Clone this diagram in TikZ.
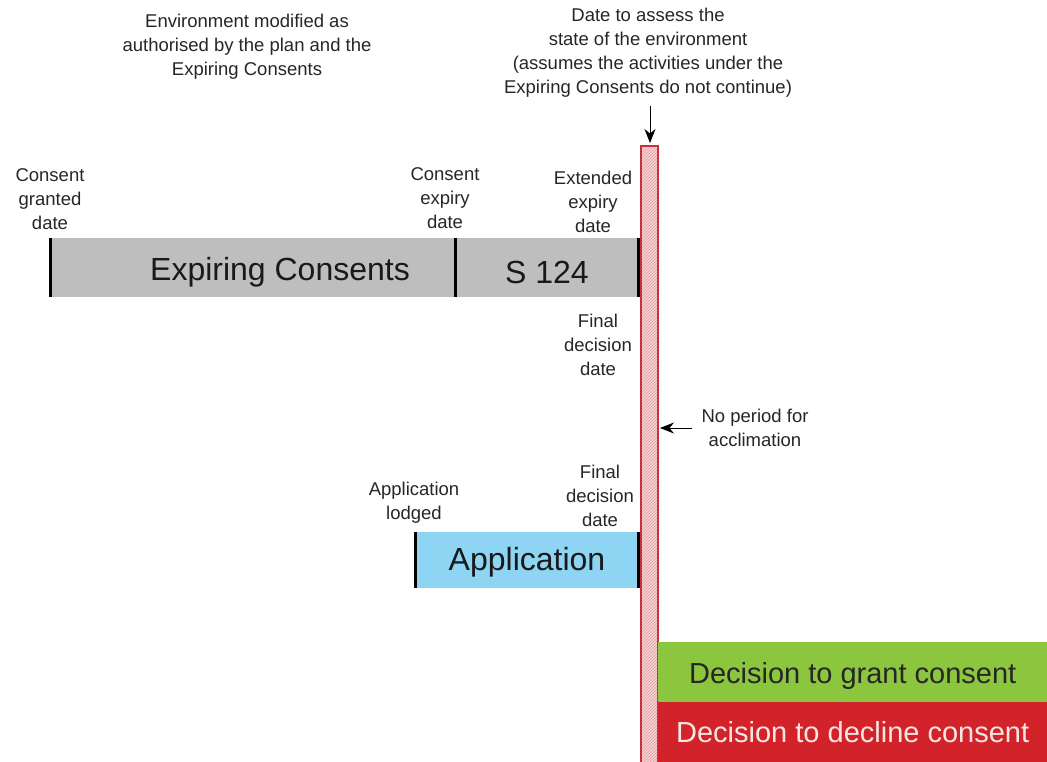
\documentclass[tikz,border=0pt]{standalone}
\usepackage{fontspec}
\setmainfont{Liberation Sans}
\usetikzlibrary{patterns,arrows.meta}
\definecolor{bargray}{HTML}{BEBEBE}
\definecolor{appblue}{HTML}{8DD5F2}
\definecolor{grantgreen}{HTML}{8CC63F}
\definecolor{declinered}{HTML}{D2232A}
\definecolor{hatchred}{HTML}{C8323E}
\definecolor{hatchpink}{HTML}{F7D3D6}
\definecolor{lighttext}{HTML}{F6E6E2}
\begin{document}
\begin{tikzpicture}[x=1pt,y=-1pt,
  small/.style={font=\fontsize{18.5}{24}\selectfont, align=center, text=black!85, inner sep=0pt},
  big/.style={font=\fontsize{32}{36}\selectfont, inner sep=0pt, text=black!90},
  edge/.style={line width=3pt, black},
  ptr/.style={-{Stealth[length=14pt,width=11pt]}, line width=0.9pt, black}]
\useasboundingbox (0,0) rectangle (1047,761);
% bars
\path[fill=bargray] (50,238) rectangle (640,297);
\node[big] (ec) at (280,272) {Expiring Consents};
\node[big] (s124) at (547,272) {S 124};
\draw[edge] (50,238) -- (50,297);
\draw[edge] (455,238) -- (455,297);
\draw[edge] (638,238) -- (638,297);
\path[fill=appblue] (415,532) rectangle (640,588);
\node[big] (app) at (527,562) {Application};
\draw[edge] (415,532) -- (415,588);
\draw[edge] (638,532) -- (638,588);
% hatched date bar
\path[fill=hatchpink] (641,146) rectangle (658,762);
\path[pattern=north east lines, pattern color=hatchred!50] (641,146) rectangle (658,762);
\draw[hatchred, line width=1.2pt] (641,762) -- (641,146) -- (658,146) -- (658,762);
\coordinate (datetop) at (650,143);
\coordinate (dateside) at (660,428);
% decision boxes
\node[fill=grantgreen, minimum width=389pt, minimum height=62pt, inner sep=0pt, anchor=north west,
  font=\fontsize{29}{32}\selectfont, text=black!85, text depth=0pt, yshift=-1pt] (grant) at (658,641) {Decision to grant consent};
\node[fill=declinered, minimum width=389pt, minimum height=60pt, inner sep=0pt, anchor=north west,
  font=\fontsize{29}{32}\selectfont, text=lighttext] (decline) at (658,702) {Decision to decline consent};
% texts
\node[small] (envmod) at (247,47) {Environment modified as\\authorised by the plan and the\\Expiring Consents};
\node[small] (assess) at (648,53) {Date to assess the\\state of the environment\\(assumes the activities under the\\Expiring Consents do not continue)};
\node[small] (granted) at (50,199) {Consent\\granted\\date};
\node[small] (expiry) at (445,198) {Consent\\expiry\\date};
\node[small] (extended) at (593,202) {Extended\\expiry\\date};
\node[small] (final1) at (598,345) {Final\\decision\\date};
\node[small] (noperiod) at (755,428) {No period for\\acclimation};
\node[small] (lodged) at (414,503) {Application\\lodged};
\node[small] (final2) at (600,496) {Final\\decision\\date};
% arrows
\draw[ptr] (650,106) -- (datetop);
\draw[ptr] (692,428) -- (dateside);
\end{tikzpicture}
\end{document}
